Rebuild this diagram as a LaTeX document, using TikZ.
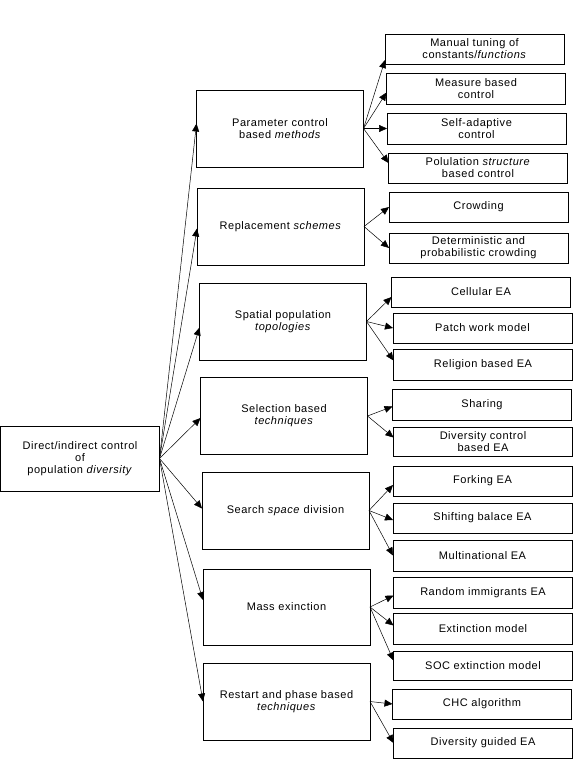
\documentclass[tikz,border=0pt]{standalone}
\usepackage{fontspec}
\setmainfont{Liberation Sans}[LetterSpace=5]
\usetikzlibrary{arrows.meta}
\begin{document}
\begin{tikzpicture}[x=1pt,y=-1pt,
  bx/.style={draw, line width=0.7pt, inner sep=0pt, outer sep=0pt, align=center,
    font=\fontsize{11}{12}\selectfont},
  mid/.style={bx, minimum width=167pt, minimum height=77pt},
  leaf/.style={bx, minimum width=179pt, minimum height=30pt},
  arr/.style={-{Triangle[length=8pt,width=7pt]}, line width=0.5pt}]
\useasboundingbox (0,0) rectangle (574,760);
% root
\node[bx, minimum width=159pt, minimum height=65pt] (root) at (80,458.5)
  {Direct/indirect control\\of\\population \textit{diversity}};
% middle boxes
\node[mid] (p1) at (280,128.5) {Parameter control\\based \textit{methods}};
\node[mid] (p2) at (280.5,226.5) {Replacement \textit{schemes}};
\node[mid] (p3) at (283,321.5) {Spatial population\\\textit{topologies}};
\node[mid] (p4) at (284,416) {Selection based\\\textit{techniques}};
\node[mid] (p5) at (285.5,510.5) {Search \textit{space} division};
\node[mid, minimum height=76pt] (p6) at (286.5,607) {Mass exinction};
\node[mid] (p7) at (286.5,701.5) {Restart and phase based\\\textit{techniques}};
% leaves
\node[leaf] (c11) at (474.5,49) {Manual tuning of\\constants/\textit{functions}};
\node[leaf, minimum height=31pt] (c12) at (476,88.5) {Measure based\\control};
\node[leaf, minimum height=31pt] (c13) at (476.5,128.5) {Self-adaptive\\control};
\node[leaf] (c14) at (478,168) {Polulation \textit{structure}\\based control};
\node[leaf] (c21) at (478.5,207) {Crowding};
\node[leaf] (c22) at (478.5,248) {Deterministic and\\probabilistic crowding};
\node[leaf] (c31) at (481,292) {Cellular EA};
\node[leaf] (c32) at (482.5,328) {Patch work model};
\node[leaf, minimum height=31pt] (c33) at (483,364.5) {Religion based EA};
\node[leaf, minimum height=31pt] (c41) at (482,404.5) {Sharing};
\node[leaf, minimum height=29pt] (c42) at (483,441.5) {Diversity control\\based EA};
\node[leaf] (c51) at (482.5,481) {Forking EA};
\node[leaf] (c52) at (482.5,518) {Shifting balace EA};
\node[leaf, minimum height=31pt] (c53) at (482.5,555.5) {Multinational EA};
\node[leaf, minimum height=31pt] (c61) at (483,592.5) {Random immigrants EA};
\node[leaf, minimum height=31pt] (c62) at (483,628.5) {Extinction model};
\node[leaf, minimum height=29pt] (c63) at (483,665.5) {SOC extinction model};
\node[leaf] (c71) at (482,704) {CHC algorithm};
\node[leaf] (c72) at (483,743) {Diversity guided EA};
% root arrows
\draw[arr] (root.east) -- ([yshift=5pt]p1.west);
\draw[arr] (root.east) -- ([yshift=-2pt]p2.west);
\draw[arr] (root.east) -- ([yshift=-6pt]p3.west);
\draw[arr] (root.east) -- ([yshift=-2pt]p4.west);
\draw[arr] (root.east) -- ([yshift=2pt]p5.west);
\draw[arr] (root.east) -- ([yshift=7pt]p6.west);
\draw[arr] (root.east) -- (p7.west);
% child arrows
\draw[arr] (p1.east) -- ([yshift=-11pt]c11.west);
\draw[arr] (p1.east) -- ([yshift=-4pt]c12.west);
\draw[arr] (p1.east) -- (c13.west);
\draw[arr] (p1.east) -- ([yshift=5pt]c14.west);
\draw[arr] (p2.east) -- (c21.west);
\draw[arr] (p2.east) -- (c22.west);
\draw[arr] (p3.east) -- ([yshift=-5pt]c31.west);
\draw[arr] (p3.east) -- (c32.west);
\draw[arr] (p3.east) -- ([yshift=4pt]c33.west);
\draw[arr] (p4.east) -- ([yshift=-2pt]c41.west);
\draw[arr] (p4.east) -- ([yshift=4pt]c42.west);
\draw[arr] (p5.east) -- ([yshift=-4pt]c51.west);
\draw[arr] (p5.east) -- ([yshift=-2pt]c52.west);
\draw[arr] (p5.east) -- (c53.west);
\draw[arr] (p6.east) -- ([yshift=-3pt]c61.west);
\draw[arr] (p6.east) -- ([yshift=3pt]c62.west);
\draw[arr] (p6.east) -- ([yshift=5pt]c63.west);
\draw[arr] (p7.east) -- (c71.west);
\draw[arr] (p7.east) -- (c72.west);
\end{tikzpicture}
\end{document}
